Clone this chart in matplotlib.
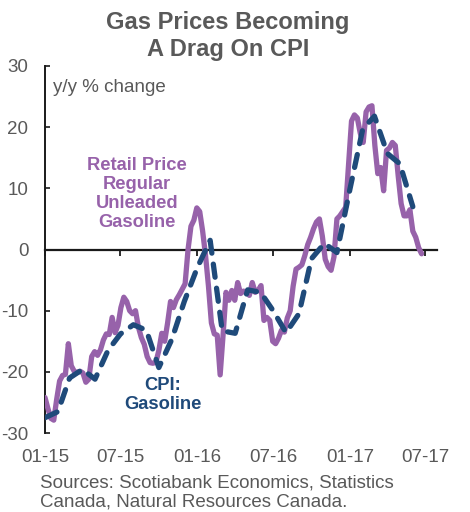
import matplotlib
matplotlib.use("Agg")
import matplotlib.pyplot as plt
import matplotlib.dates as mdates
import matplotlib.transforms as mtransforms
import numpy as np
import pandas as pd

plt.rcParams['font.family'] = ['Liberation Sans', 'DejaVu Sans']

# weekly retail price, regular unleaded gasoline (y/y % change)
retail_start = '2015-01-01'
retail = [-24.2, -26.0, -27.6, -27.9, -24.5, -21.5, -20.6, -20.4, -15.4, -19.0,
          -19.9, -20.1, -19.9, -20.2, -21.7, -21.2, -17.5, -16.7, -17.3, -16.4,
          -14.8, -13.8, -13.9, -11.1, -13.6, -12.4, -9.5, -7.8, -8.5, -10.0,
          -10.5, -10.0, -12.7, -14.4, -15.5, -17.5, -18.5, -18.6, -18.4, -16.5,
          -13.7, -15.0, -12.0, -8.5, -9.5, -8.2, -7.4, -6.5, -5.6, 0.0,
          3.8, 4.8, 6.8, 6.2, 3.0, -1.0, -6.0, -12.0, -13.8, -14.0,
          -20.5, -14.0, -7.0, -8.3, -6.7, -8.3, -5.4, -7.2, -6.8, -7.0,
          -7.5, -5.4, -7.0, -6.7, -5.9, -11.6, -11.1, -11.6, -15.0, -15.4,
          -14.5, -13.2, -13.5, -11.2, -10.0, -6.0, -3.2, -2.9, -2.5, -1.0,
          0.8, 2.0, 3.4, 4.5, 5.0, 2.2, -1.6, -2.8, -3.4, -1.2,
          5.0, 5.5, 6.2, 6.9, 14.0, 21.0, 22.0, 21.5, 19.0, 17.5,
          22.5, 23.3, 23.5, 17.0, 12.4, 13.4, 9.6, 16.2, 16.6, 17.5,
          17.0, 12.0, 7.5, 5.5, 5.5, 6.5, 3.0, 2.0, 0.3, -0.7]

# monthly CPI gasoline (y/y % change)
cpi_start = '2015-01-01'
cpi = [-27.5, -26.5, -21.0, -19.6, -21.2, -16.5, -13.8, -12.3, -13.2, -19.3,
       -14.7, -8.5, -3.0, 1.5, -13.3, -13.7, -6.6, -7.0, -10.0, -13.6,
       -10.5, -1.5, 1.0, -0.5, 9.8, 19.7, 21.8, 15.7, 14.0, 7.0]

tick_dates = ['2015-01-01', '2015-07-01', '2016-01-01', '2016-07-01', '2017-01-01', '2017-07-01']
tick_labels = ['01-15', '07-15', '01-16', '07-16', '01-17', '07-17']

retail_dates = pd.date_range(retail_start, periods=len(retail), freq='7D')
cpi_dates = pd.date_range(cpi_start, periods=len(cpi), freq='MS')

purple = '#9762AA'
navy = '#1F4A7A'
grey = '#595959'

W, H = 470, 512
fig = plt.figure(figsize=(W / 100, H / 100), dpi=100)
ax = fig.add_axes([45 / W, 1 - 433 / H, (437 - 45) / W, (433 - 66) / H])

ax.plot(retail_dates, retail, color=purple, lw=3.8, solid_joinstyle='round',
        solid_capstyle='round', zorder=3)
ax.plot(cpi_dates, cpi, color=navy, lw=3.8, dashes=(2.5, 2.1),
        dash_capstyle='round', zorder=4)

ax.set_ylim(-30, 30)
ax.set_xlim(pd.Timestamp('2015-01-01'), pd.Timestamp('2017-07-29'))
ax.set_yticks([-30, -20, -10, 0, 10, 20, 30])
ax.set_yticklabels(['-30', '-20', '-10', '0', '10', '20', '30'])

for s in ['top', 'right']:
    ax.spines[s].set_visible(False)
ax.spines['bottom'].set_position(('data', 0))
ax.spines['bottom'].set_linewidth(1.6)
ax.spines['bottom'].set_color('#1a1a1a')
ax.spines['left'].set_linewidth(1.4)
ax.spines['left'].set_color('#1a1a1a')

ax.set_xticks(pd.to_datetime(tick_dates))
ax.tick_params(axis='x', direction='out', length=4.5, width=1.3,
               color='#1a1a1a', labelbottom=False)
ax.tick_params(axis='y', direction='in', length=3.5, width=1.2,
               color='#1a1a1a', pad=12, labelsize=13.5, labelcolor=grey)

# x labels sit below the plot, not at the zero line
trans = mtransforms.blended_transform_factory(ax.transData, ax.transAxes)
for d, lab in zip(pd.to_datetime(tick_dates), tick_labels):
    ax.text(mdates.date2num(d), -0.066, lab, transform=trans, ha='center',
            va='center', fontsize=13.5, color=grey)

ax.text(8 / 392, 1 - 21 / 367, 'y/y % change', transform=ax.transAxes,
        ha='left', va='center', fontsize=13.5, color=grey)

fig.text(228 / W, 1 - 36 / H, 'Gas Prices Becoming\nA Drag On CPI', ha='center',
         va='center', fontsize=17, fontweight='bold', color=grey, linespacing=1.2)

fig.text(137 / W, 1 - 194 / H, 'Retail Price\nRegular\nUnleaded\nGasoline',
         ha='center', va='center', fontsize=13.2, fontweight='bold', color=purple,
         linespacing=1.16)
fig.text(163 / W, 1 - 395 / H, 'CPI:\nGasoline', ha='center', va='center',
         fontsize=13.2, fontweight='bold', color=navy, linespacing=1.1)

fig.text(40 / W, 1 - 492.5 / H,
         'Sources: Scotiabank Economics, Statistics\nCanada, Natural Resources Canada.',
         ha='left', va='center', fontsize=13.5, color=grey, linespacing=1.15)

fig.savefig('out.png', dpi=100)
